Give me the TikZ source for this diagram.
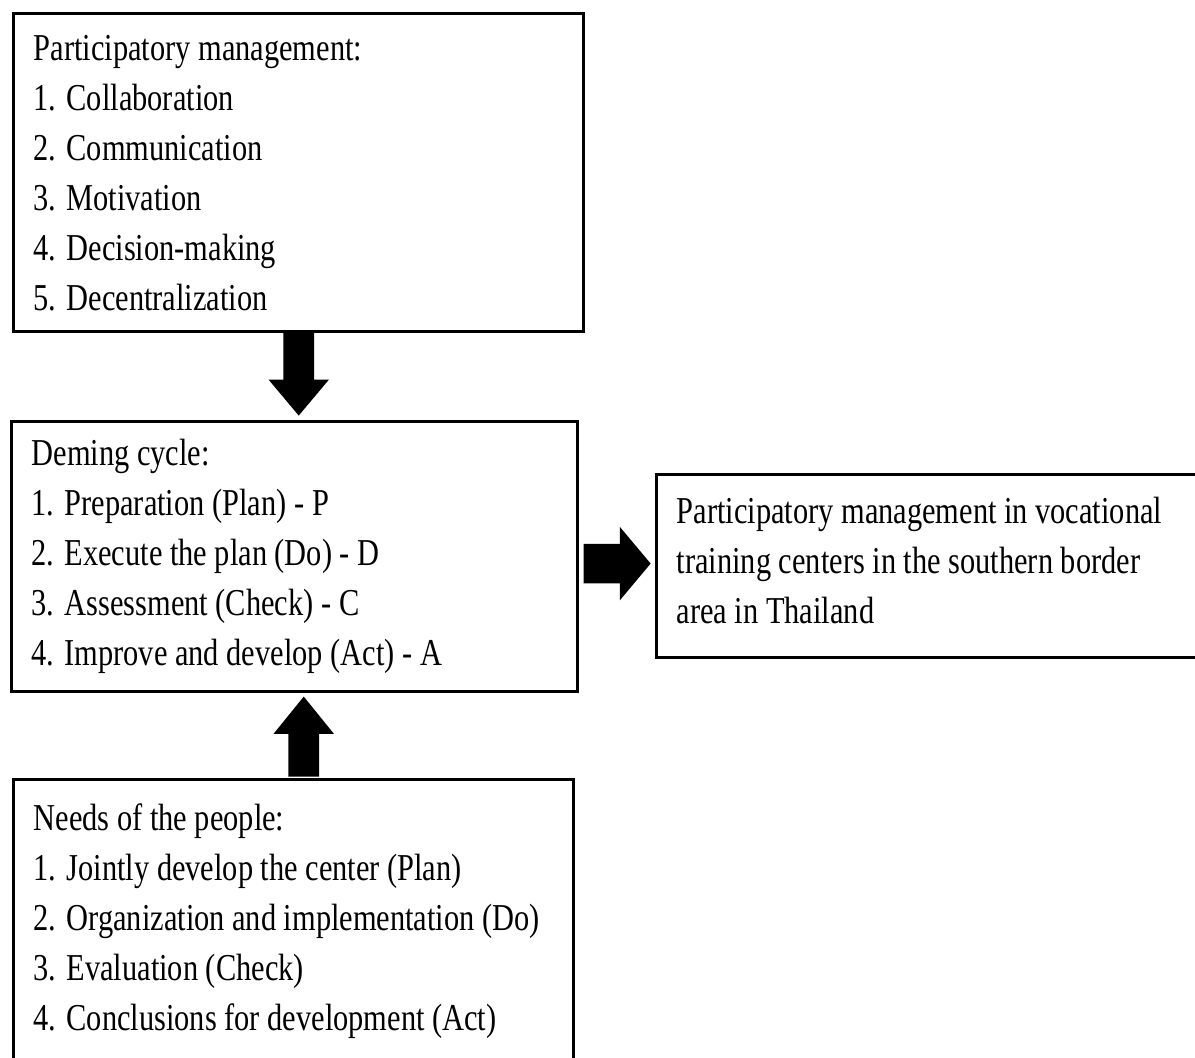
\documentclass[tikz,border=0pt]{standalone}
\usepackage{fontspec}
\setmainfont[FakeStretch=0.8]{Liberation Serif}
\usetikzlibrary{shapes.arrows,calc}

\tikzset{
  box/.style={draw=black, line width=2.6pt, anchor=north west, align=flush left,
    inner xsep=15pt, font=\fontsize{28.5pt}{37.5pt}\selectfont},
  blockarrow/.style={single arrow, fill=black, draw=none, inner xsep=0pt,
    inner ysep=11.25pt, single arrow head extend=11.25pt,
    single arrow head indent=0pt, anchor=tip}
}

\begin{document}
\begin{tikzpicture}[x=0.75pt,y=-0.75pt]
\useasboundingbox (0,0) rectangle (1195,1057);
\clip (0,0) rectangle (1195,1057);
\node [box, minimum width=427.5pt, text width=397.5pt, minimum height=238.5pt] (pm) at (12,12)
  {Participatory management:\\1. Collaboration\\2. Communication\\3. Motivation\\4. Decision-making\\5. Decentralization};
\node [box, minimum width=424.5pt, text width=394.5pt, minimum height=202.5pt] (dc) at (10,420)
  {Deming cycle:\\1. Preparation (Plan) - P\\2. Execute the plan (Do) - D\\3. Assessment (Check) - C\\4. Improve and develop (Act) - A};
\node [box, minimum width=435pt, text width=405pt, minimum height=137.25pt, text depth=84pt] (ta) at (655,473)
  {Participatory management in vocational\\training centers in the southern border\\area in Thailand};
\node [box, minimum width=420pt, text width=390pt, minimum height=211.5pt] (np) at (12,778)
  {Needs of the people:\\1. Jointly develop the center (Plan)\\2. Organization and implementation (Do)\\3. Evaluation (Check)\\4. Conclusions for development (Act)};
\node [blockarrow, rotate=-90, single arrow tip angle=80, minimum height=62.25pt] (pmdc)
  at ([yshift=3pt]dc.north -| pm.south) {};
\node [blockarrow, inner ysep=14.6pt, single arrow head extend=12.75pt,
  single arrow tip angle=100, minimum height=50.25pt] (dcta) at ([xshift=-3pt,yshift=2pt]ta.west) {};
\node [blockarrow, rotate=90, single arrow tip angle=78, minimum height=60pt] (npdc)
  at ([xshift=6.75pt,yshift=-2pt]dc.south) {};
\end{tikzpicture}
\end{document}
